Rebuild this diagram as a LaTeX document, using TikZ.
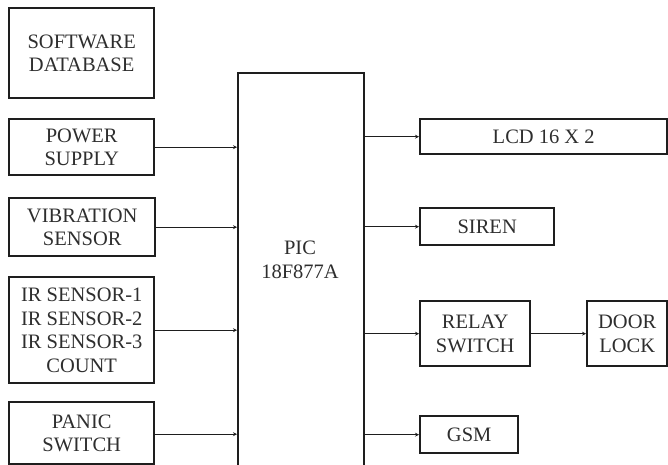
\documentclass[tikz,border=0pt]{standalone}
\usepackage{fontspec}
\setmainfont{Liberation Serif}
\usetikzlibrary{arrows.meta}
\definecolor{ink}{HTML}{1E1E1E}
\definecolor{txt}{HTML}{2E2E2E}
\tikzset{
  blk/.style={draw=ink, line width=2.4pt, inner sep=0pt, align=center, text=txt,
    font=\fontsize{20.5}{23.5}\selectfont, anchor=north west},
  conn/.style={draw=ink, line width=0.8pt, -{Stealth[length=4pt,width=4pt]}}
}
\begin{document}
\begin{tikzpicture}[x=1pt,y=-1pt]
\useasboundingbox (0,0) rectangle (668,464);
% left blocks
\node[blk, minimum width=145pt, minimum height=90pt] (soft) at (8,7) {SOFTWARE\\DATABASE};
\node[blk, minimum width=145pt, minimum height=56pt] (power) at (8,118) {POWER\\SUPPLY};
\node[blk, minimum width=146pt, minimum height=58pt] (vib) at (8,197) {VIBRATION\\SENSOR};
\node[blk, minimum width=145pt, minimum height=106pt] (ir) at (8,276) {IR SENSOR-1\\IR SENSOR-2\\IR SENSOR-3\\COUNT};
\node[blk, minimum width=145pt, minimum height=62pt] (panic) at (8,401) {PANIC\\SWITCH};
% controller
\node[blk, minimum width=126pt, minimum height=394pt] (pic) at (237,72) {};
\node[text=txt, font=\fontsize{20.5}{23.5}\selectfont, align=center] (pictxt) at (300,260) {PIC\\18F877A};
% right blocks
\node[blk, minimum width=247pt, minimum height=35pt] (lcd) at (419,118) {LCD 16 X 2};
\node[blk, minimum width=134pt, minimum height=37pt] (siren) at (419,207) {SIREN};
\node[blk, minimum width=110pt, minimum height=65pt] (relay) at (419,300) {RELAY\\SWITCH};
\node[blk, minimum width=80pt, minimum height=65pt] (door) at (586,300) {DOOR\\LOCK};
\node[blk, minimum width=98pt, minimum height=37pt] (gsm) at (419,415) {GSM};
% connectors
\draw[conn] (power.east) -- (power.east -| pic.west);
\draw[conn] (vib.east) -- (vib.east -| pic.west);
\draw[conn] (ir.east) -- (ir.east -| pic.west);
\draw[conn] ([yshift=-1pt]panic.east) -- ([yshift=-1pt]panic.east -| pic.west);
\draw[conn] (pic.east |- lcd.west) -- (lcd.west);
\draw[conn] (pic.east |- siren.west) -- (siren.west);
\draw[conn] (pic.east |- relay.west) -- (relay.west);
\draw[conn] (pic.east |- gsm.west) -- (gsm.west);
\draw[conn] (relay.east) -- (door.west);
\end{tikzpicture}
\end{document}
